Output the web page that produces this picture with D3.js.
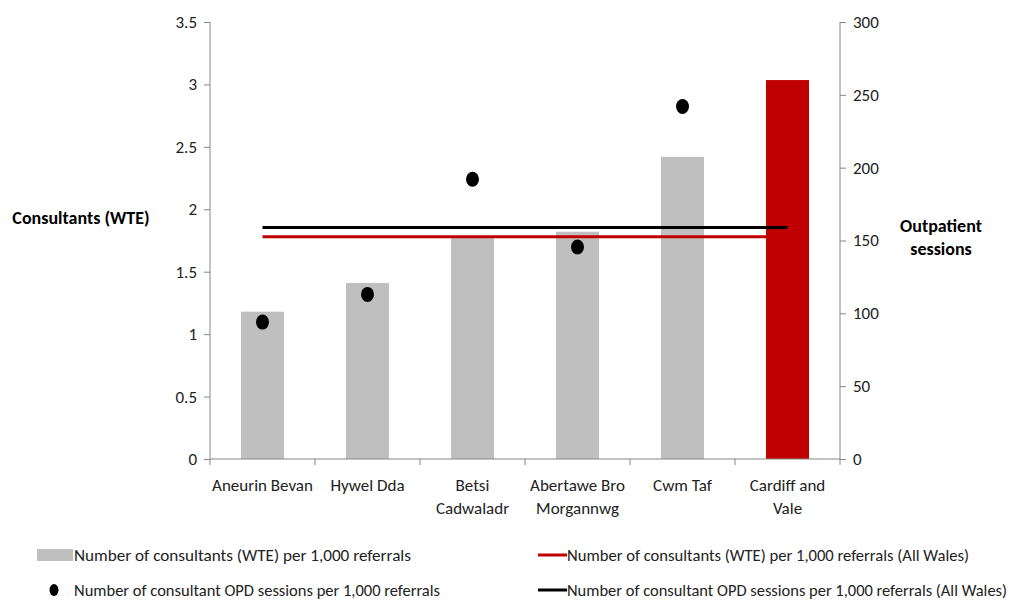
<!DOCTYPE html>
<html><head><meta charset="utf-8">
<script src="https://cdn.jsdelivr.net/npm/d3@7"></script>
<style>
body{margin:0;background:#fff;}
text{font-family:Carlito,"Liberation Sans Narrow","Open Sans Condensed",Calibri,"Liberation Sans",sans-serif;}
</style></head><body>
<svg id="c" width="1013" height="600"></svg>
<script>
const categories = [["Aneurin Bevan"],["Hywel Dda"],["Betsi","Cadwaladr"],["Abertawe Bro","Morgannwg"],["Cwm Taf"],["Cardiff and","Vale"]];
const consultants = [1.18, 1.41, 1.78, 1.82, 2.42, 3.035];
const sessions = [94, 113, 192, 145.5, 242, null];
const allWalesConsultants = 1.78;
const allWalesSessions = 159;
const leftTicks = [0,0.5,1,1.5,2,2.5,3,3.5];
const rightTicks = [0,50,100,150,200,250,300];
const highlightIndex = 5;
const legendLabels = [
  "Number of consultants (WTE) per 1,000 referrals",
  "Number of consultant OPD sessions per 1,000 referrals",
  "Number of consultants (WTE) per 1,000 referrals (All Wales)",
  "Number of consultant OPD sessions per 1,000 referrals (All Wales)"
];

const svg = d3.select("#c");
const x0 = 210, x1 = 840, yTop = 22, yBot = 459;
const x = d3.scaleBand().domain(d3.range(categories.length)).range([x0,x1]).paddingInner(0.59).paddingOuter(0.295);
const xb = d3.scaleBand().domain(d3.range(categories.length)).range([x0,x1]);
const yL = d3.scaleLinear().domain([0,3.5]).range([yBot,yTop]);
const yR = d3.scaleLinear().domain([0,300]).range([yBot,yTop]);
const axisCol = "#868686";
const fs = 17;

// bars
svg.append("g").selectAll("rect").data(consultants).join("rect")
  .attr("x",(d,i)=>x(i)).attr("width",x.bandwidth())
  .attr("y",d=>yL(d)).attr("height",d=>yBot-yL(d))
  .attr("fill",(d,i)=>i===highlightIndex?"#C00000":"#BFBFBF");

// axes
const gL = svg.append("g").attr("transform",`translate(${x0},0)`)
  .call(d3.axisLeft(yL).tickValues(leftTicks).tickSize(6).tickPadding(7).tickFormat(d=>d));
const gR = svg.append("g").attr("transform",`translate(${x1},0)`)
  .call(d3.axisRight(yR).tickValues(rightTicks).tickSize(6).tickPadding(7));
[gL,gR].forEach(g=>{
  g.select(".domain").attr("stroke",axisCol).attr("d",`M0,${yTop}V${yBot}`);
  g.selectAll(".tick line").attr("stroke",axisCol);
  g.selectAll(".tick text").attr("font-size",fs).attr("fill","#222");
});
// x axis
const gX = svg.append("g");
gX.append("line").attr("x1",x0).attr("x2",x1).attr("y1",yBot).attr("y2",yBot).attr("stroke",axisCol);
gX.selectAll("line.t").data(d3.range(categories.length+1)).join("line").attr("class","t")
  .attr("x1",i=>x0+i*xb.step()).attr("x2",i=>x0+i*xb.step()).attr("y1",yBot).attr("y2",yBot+6).attr("stroke",axisCol);
gX.selectAll("text").data(categories).join("text")
  .attr("x",(d,i)=>xb(i)+xb.bandwidth()/2).attr("y",491)
  .attr("text-anchor","middle").attr("font-size",fs).attr("fill","#222")
  .selectAll("tspan").data(d=>d).join("tspan")
  .attr("x",function(){return d3.select(this.parentNode).attr("x");})
  .attr("dy",(d,i)=>i===0?0:23).text(d=>d);

// average lines
const cx0 = xb(0)+xb.bandwidth()/2, cx1 = xb(categories.length-1)+xb.bandwidth()/2;
svg.append("line").attr("x1",cx0).attr("x2",cx1).attr("y1",yL(allWalesConsultants)).attr("y2",yL(allWalesConsultants))
  .attr("stroke","#C00000").attr("stroke-width",3);
svg.append("line").attr("x1",cx0).attr("x2",cx1).attr("y1",yR(allWalesSessions)).attr("y2",yR(allWalesSessions))
  .attr("stroke","#000").attr("stroke-width",3);

// dots
svg.append("g").selectAll("ellipse").data(sessions.map((v,i)=>({v,i})).filter(d=>d.v!=null)).join("ellipse")
  .attr("cx",d=>xb(d.i)+xb.bandwidth()/2).attr("cy",d=>yR(d.v)).attr("rx",6.5).attr("ry",7.5).attr("fill","#000");

// axis titles
svg.append("text").attr("x",81).attr("y",224).attr("text-anchor","middle").attr("font-size",18).attr("font-weight","bold").text("Consultants (WTE)");
const rt = svg.append("text").attr("x",941).attr("y",232).attr("text-anchor","middle").attr("font-size",18).attr("font-weight","bold");
rt.append("tspan").attr("x",941).text("Outpatient");
rt.append("tspan").attr("x",941).attr("dy",23).text("sessions");

// legend
const lg = svg.append("g");
const legendPos = [{x:74,y:561,w:337},{x:74,y:596,w:366},{x:567,y:561,w:402},{x:567,y:596,w:440}];
lg.append("rect").attr("x",37).attr("y",549).attr("width",36).attr("height",12).attr("fill","#BFBFBF");
lg.append("ellipse").attr("cx",54).attr("cy",590).attr("rx",4.5).attr("ry",6).attr("fill","#000");
lg.append("line").attr("x1",538).attr("x2",567).attr("y1",555).attr("y2",555).attr("stroke","#C00000").attr("stroke-width",3);
lg.append("line").attr("x1",538).attr("x2",567).attr("y1",590).attr("y2",590).attr("stroke","#000").attr("stroke-width",3);
lg.selectAll("text").data(legendLabels).join("text")
  .attr("x",(d,i)=>legendPos[i].x).attr("y",(d,i)=>legendPos[i].y)
  .attr("textLength",(d,i)=>legendPos[i].w).attr("lengthAdjust","spacingAndGlyphs")
  .attr("font-size",16).attr("fill","#222").text(d=>d);
</script></body></html>
